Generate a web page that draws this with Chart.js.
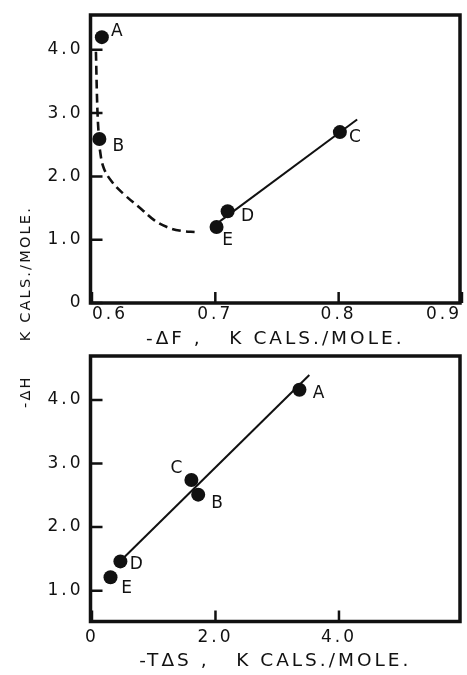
<!DOCTYPE html>
<html>
<head>
<meta charset="utf-8">
<script src="https://cdn.jsdelivr.net/npm/chart.js@4.4.0/dist/chart.umd.min.js"></script>
<style>
  body { margin: 0; background: #fff; }
  #wrap { position: relative; width: 467px; height: 675px; overflow: hidden; background: #fff; }
  #wrap canvas { position: absolute; left: 0; }
  #h-label {
    position: absolute; left: 25px; top: 307px;
    transform: translate(-50%, -50%) rotate(-90deg);
    white-space: pre; color: #111;
    font: 14.5px "DejaVu Sans", sans-serif; letter-spacing: 2.2px;
  }
</style>
</head>
<body>
<div id="wrap">
  <canvas id="df-chart" width="467" height="355" style="top:0"></canvas>
  <canvas id="ts-chart" width="467" height="335" style="top:340px"></canvas>
  <div id="h-label"><span>-ΔH</span><span style="margin-left:34px">K CALS./MOLE.</span></div>
</div>
<script>
const names = ['A', 'B', 'C', 'D', 'E'];

// upper plot: -ΔH against -ΔF
const negDF = [0.608, 0.606, 0.801, 0.710, 0.701];
const negDH_top = [4.20, 2.59, 2.70, 1.45, 1.20];
// dashed trend through A, B towards E
const curveDF = [0.6032, 0.6044, 0.6056, 0.6064, 0.6096, 0.6168, 0.6264, 0.6408, 0.6504, 0.6608, 0.672, 0.6848];
const curveDH = [3.97, 3.05, 2.61, 2.42, 2.13, 1.90, 1.71, 1.47, 1.31, 1.20, 1.14, 1.12];
// solid line E - D - C
const fitDF = [0.7036, 0.815];
const fitDH_top = [1.29, 2.90];

// lower plot: -ΔH against -TΔS
const negTDS = [3.36, 1.72, 1.61, 0.46, 0.30];
const negDH_bottom = [4.16, 2.51, 2.74, 1.46, 1.21];
const fitTDS = [0.526, 3.52];
const fitDH_bottom = [1.53, 4.39];

// tick values and labels
const dfTicks = [0.6, 0.7, 0.8, 0.9];
const dfTickLabels = ['0.6', '0.7', '0.8', '0.9'];
const hTicksTop = [0, 1, 2, 3, 4];
const hTickLabelsTop = ['0', '1.0', '2.0', '3.0', '4.0'];
const tsTicks = [0, 2, 4];
const tsTickLabels = ['0', '2.0', '4.0'];
const hTicksBottom = [1, 2, 3, 4];
const hTickLabelsBottom = ['1.0', '2.0', '3.0', '4.0'];

// where each letter sits relative to its dot
const topLetterOffsets = [[15, -6], [19, 8], [15, 5], [20, 5], [11, 14]];
const bottomLetterOffsets = [[19, 4], [19, 9], [-15, -11], [16, 3], [16, 11]];

const ink = '#111';
const font = { family: '"DejaVu Sans", sans-serif', size: 17 };
const titleFont = { family: '"DejaVu Sans", sans-serif', size: 18.5 };

const toXY = (xs, ys) => xs.map((x, i) => ({ x: x, y: ys[i] }));

// wide lettering like the hand-drawn one
const spacing = {
  id: 'spacing',
  beforeLayout(chart) { chart.ctx.letterSpacing = '3px'; },
  beforeDraw(chart) { chart.ctx.letterSpacing = '3px'; }
};

// heavy box round the plot area
const frame = {
  id: 'frame',
  afterDraw(chart) {
    const { ctx, chartArea: a } = chart;
    ctx.save();
    ctx.strokeStyle = ink;
    ctx.lineWidth = 3.5;
    ctx.strokeRect(a.left, a.top, a.right - a.left, a.bottom - a.top);
    ctx.restore();
  }
};

// tick marks pointing into the plot
const innerTicks = {
  id: 'innerTicks',
  afterDraw(chart) {
    const { ctx, chartArea: a, scales } = chart;
    ctx.save();
    ctx.strokeStyle = ink;
    ctx.lineWidth = 2.5;
    ctx.beginPath();
    scales.x.ticks.forEach(t => {
      const px = scales.x.getPixelForValue(t.value);
      ctx.moveTo(px, a.bottom);
      ctx.lineTo(px, a.bottom - 11);
    });
    scales.y.ticks.forEach(t => {
      const py = scales.y.getPixelForValue(t.value);
      ctx.moveTo(a.left, py);
      ctx.lineTo(a.left + 12, py);
    });
    ctx.stroke();
    ctx.restore();
  }
};

// letters beside the dots
const letters = {
  id: 'letters',
  afterDatasetsDraw(chart) {
    const ctx = chart.ctx;
    chart.data.datasets.forEach((ds, di) => {
      if (!ds.letters) return;
      const meta = chart.getDatasetMeta(di);
      ctx.save();
      ctx.fillStyle = ink;
      ctx.font = font.size + 'px ' + font.family;
      ctx.letterSpacing = '0px';
      ctx.textAlign = 'center';
      ctx.textBaseline = 'middle';
      meta.data.forEach((pt, i) => {
        const off = ds.letterOffsets[i];
        ctx.fillText(ds.letters[i], pt.x + off[0], pt.y + off[1]);
      });
      ctx.restore();
    });
  }
};

function fixedTicks(values, labels) {
  return {
    afterBuildTicks: scale => { scale.ticks = values.map(v => ({ value: v })); },
    callback: (v, i) => labels[i]
  };
}

// tick labels may hang past the frame; keep the plot area fixed
function noOverhang(s) {
  s.paddingLeft = 0; s.paddingRight = 0; s.paddingTop = 0; s.paddingBottom = 0;
}

function makeChart(el, cfg) {
  const xt = fixedTicks(cfg.xTicks, cfg.xLabels);
  const yt = fixedTicks(cfg.yTicks, cfg.yLabels);
  return new Chart(document.getElementById(el), {
    type: 'scatter',
    data: { datasets: cfg.datasets },
    options: {
      responsive: false,
      animation: false,
      layout: { padding: cfg.padding },
      plugins: { legend: { display: false }, tooltip: { enabled: false } },
      scales: {
        x: {
          type: 'linear', min: cfg.xMin, max: cfg.xMax,
          afterBuildTicks: xt.afterBuildTicks,
          afterFit: s => { s.height = cfg.xHeight; noOverhang(s); },
          grid: { display: false, drawTicks: false },
          border: { display: false },
          ticks: {
            callback: xt.callback, color: ink, font: font, padding: cfg.xPad,
            align: cfg.xAlign, maxRotation: 0, autoSkip: false
          },
          title: { display: true, text: cfg.xTitle, color: ink, font: titleFont, padding: { top: 0, bottom: cfg.titlePad } }
        },
        y: {
          type: 'linear', min: cfg.yMin, max: cfg.yMax,
          afterBuildTicks: yt.afterBuildTicks,
          afterFit: s => { s.width = 90.5; noOverhang(s); },
          grid: { display: false, drawTicks: false },
          border: { display: false },
          ticks: { callback: yt.callback, color: ink, font: font, padding: 7, autoSkip: false }
        }
      }
    },
    plugins: [spacing, innerTicks, letters, frame]
  });
}

makeChart('df-chart', {
  xMin: 0.5988, xMax: 0.8984, yMin: 0, yMax: 4.55,
  xTicks: dfTicks, xLabels: dfTickLabels, yTicks: hTicksTop, yLabels: hTickLabelsTop,
  xTitle: '-ΔF ,   K CALS./MOLE.', xAlign: 'inner',
  padding: { top: 15, right: 2, left: 0, bottom: 0 },
  xHeight: 52, xPad: 1, titlePad: 5,
  datasets: [
    {
      data: toXY(curveDF, curveDH), showLine: true, borderColor: ink, borderWidth: 2.6,
      borderDash: [9, 5], pointRadius: 0, tension: 0.4
    },
    { data: toXY(fitDF, fitDH_top), showLine: true, borderColor: ink, borderWidth: 2, pointRadius: 0 },
    {
      data: toXY(negDF, negDH_top), pointRadius: 7, backgroundColor: ink, borderWidth: 0,
      letters: names, letterOffsets: topLetterOffsets
    }
  ]
});

makeChart('ts-chart', {
  xMin: -0.024, xMax: 5.96, yMin: 0.515, yMax: 4.69,
  xTicks: tsTicks, xLabels: tsTickLabels, yTicks: hTicksBottom, yLabels: hTickLabelsBottom,
  xTitle: '-TΔS ,   K CALS./MOLE.', xAlign: 'center',
  padding: { top: 16, right: 1, left: 0, bottom: 0 },
  xHeight: 53.5, xPad: 6, titlePad: 3,
  datasets: [
    { data: toXY(fitTDS, fitDH_bottom), showLine: true, borderColor: ink, borderWidth: 2, pointRadius: 0 },
    {
      data: toXY(negTDS, negDH_bottom), pointRadius: 7, backgroundColor: ink, borderWidth: 0,
      letters: names, letterOffsets: bottomLetterOffsets
    }
  ]
});
</script>
</body>
</html>
